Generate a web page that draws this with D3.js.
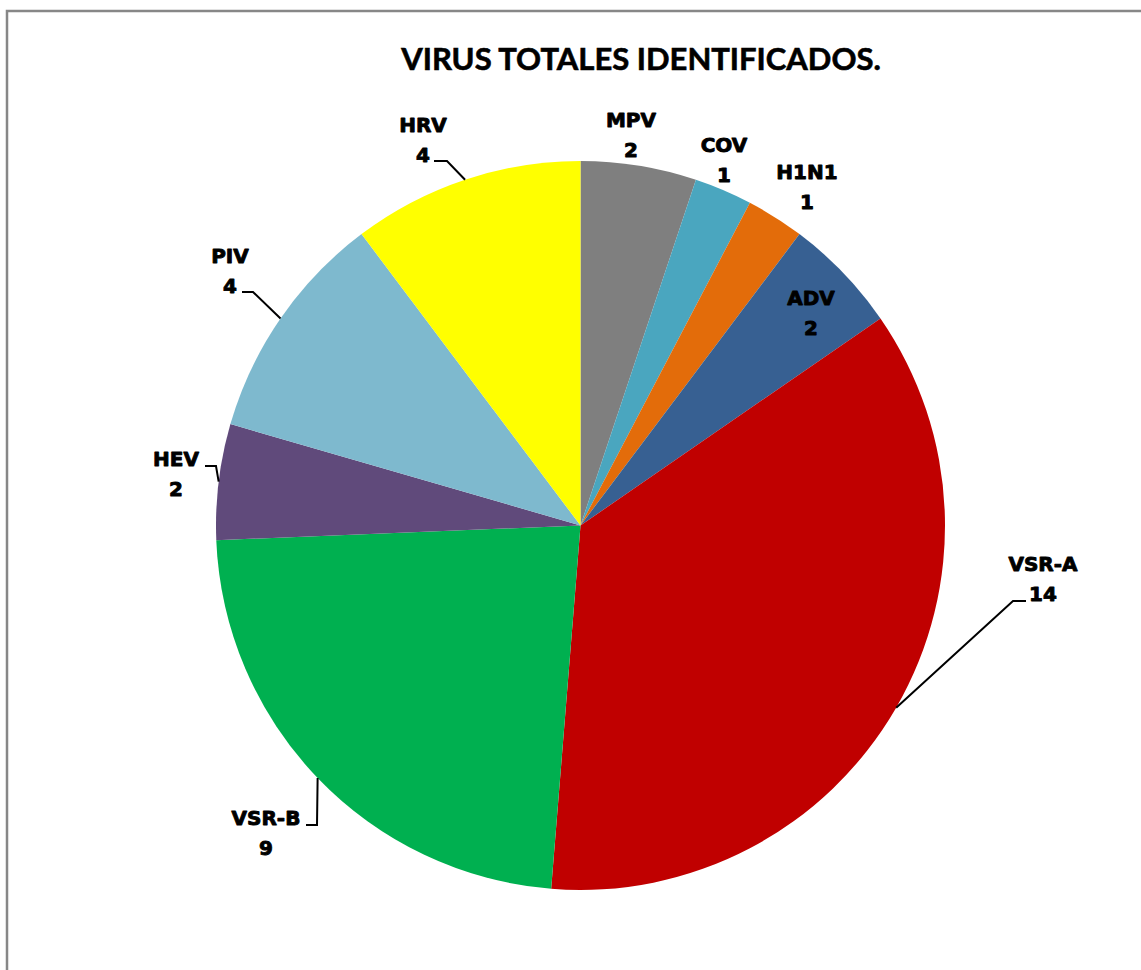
<!DOCTYPE html>
<html>
<head>
<meta charset="utf-8">
<script src="https://cdn.jsdelivr.net/npm/d3@7"></script>
<style>
  body { margin: 0; background: #fff; }
  svg { display: block; }
</style>
</head>
<body>
<svg id="chart" width="1141" height="970"></svg>
<script>
// data
var categories = ["MPV", "COV", "H1N1", "ADV", "VSR-A", "VSR-B", "HEV", "PIV", "HRV"];
var values = [2, 1, 1, 2, 14, 9, 2, 4, 4];
var colors = ["#7f7f7f", "#4aa6bf", "#e36c0a", "#376092", "#c00000", "#00b050", "#604a7b", "#7eb9ce", "#ffff00"];

// label layout: [center x, baseline of first line]
var labelPos = [[631, 127], [724, 152], [807, 179], [811, 305], [1043, 571], [266, 825], [176, 466], [230, 263], [423, 132]];
// leader lines: [knee, end] or null
var leaders = [null, null, null, null, [[1013, 601], [1026, 601]], [[317, 825], [306, 825]],
    [[216, 466], [205, 466]], [[253, 292], [242, 292]], [[447, 161], [434, 161]]];

var svg = d3.select("#chart");
var cx = 580.5, cy = 525.5, radius = 364.5;

// outer frame
svg.append("path")
    .attr("d", "M7,970 L7,11 L1141,11")
    .attr("fill", "none")
    .attr("stroke", "#878787")
    .attr("stroke-width", 2.5);

svg.append("text")
    .attr("x", 641)
    .attr("y", 70)
    .attr("text-anchor", "middle")
    .style("font-family", "Lato, 'Open Sans', sans-serif")
    .style("font-weight", 700)
    .style("font-size", "31px")
    .attr("stroke", "#000")
    .attr("stroke-width", 0.6)
    .text("VIRUS TOTALES IDENTIFICADOS.");

var data = categories.map(function (c, i) {
    return {name: c, value: values[i], color: colors[i], i: i};
});

var pie = d3.pie()
    .sort(null)
    .value(function (d) { return d.value; });

var arc = d3.arc()
    .innerRadius(0)
    .outerRadius(radius);

var g = svg.append("g")
    .attr("transform", "translate(" + cx + "," + cy + ")");

var arcs = pie(data);

g.selectAll("path.slice")
    .data(arcs)
    .enter().append("path")
    .attr("class", "slice")
    .attr("d", arc)
    .attr("fill", function (d) { return d.data.color; });

// leader lines from the slice edge at mid angle
arcs.forEach(function (d, i) {
    var l = leaders[i];
    if (!l) return;
    var a = (d.startAngle + d.endAngle) / 2;
    var px = cx + radius * Math.sin(a);
    var py = cy - radius * Math.cos(a);
    svg.append("polyline")
        .attr("points", [[px, py], l[0], l[1]].map(function (p) { return p.join(","); }).join(" "))
        .attr("fill", "none")
        .attr("stroke", "#000")
        .attr("stroke-width", 2);
});

var labels = svg.selectAll("text.lbl")
    .data(arcs)
    .enter().append("text")
    .attr("class", "lbl")
    .attr("text-anchor", "middle")
    .style("font-family", "'DejaVu Sans', sans-serif")
    .style("font-weight", 700)
    .style("font-size", "20px")
    .attr("fill", "#000")
    .attr("stroke", "#000")
    .attr("stroke-width", 0.9)
    .attr("stroke-linejoin", "round");

labels.append("tspan")
    .attr("x", function (d, i) { return labelPos[i][0]; })
    .attr("y", function (d, i) { return labelPos[i][1]; })
    .text(function (d) { return d.data.name; });

labels.append("tspan")
    .attr("x", function (d, i) { return labelPos[i][0]; })
    .attr("y", function (d, i) { return labelPos[i][1] + 29.5; })
    .text(function (d) { return d.data.value; });
</script>
</body>
</html>
